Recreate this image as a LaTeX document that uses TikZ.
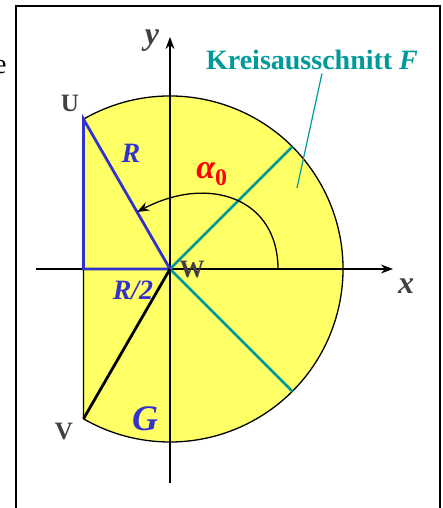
\documentclass[tikz,border=0pt]{standalone}
\usepackage{fontspec}
\setmainfont{Liberation Serif}
\usetikzlibrary{arrows.meta, positioning}

\definecolor{fillyellow}{RGB}{255,255,102}
\definecolor{lineblue}{RGB}{51,51,204}
\definecolor{lineteal}{RGB}{0,153,153}
\definecolor{textgray}{RGB}{64,64,64}

\begin{document}
\begin{tikzpicture}[x=1pt, y=1pt,
    axis/.style={line width=1.4pt, -{Stealth[length=12pt, width=9pt]}},
    blueline/.style={draw=lineblue, line width=2.8pt},
    tealline/.style={draw=lineteal, line width=2.8pt},
    pointlabel/.style={text=textgray, font=\fontsize{25}{25}\selectfont\bfseries},
    varlabel/.style={text=lineblue, font=\fontsize{28}{28}\selectfont\bfseries\itshape}
]
    \useasboundingbox (-170,-239) rectangle (272,269);
    \draw[line width=1.4pt] (-154,-260) -- (-154,263) -- (270,263) -- (270,-260);
    \node[anchor=east, font=\fontsize{28}{28}\selectfont] at (-160,202) {e};

    % points
    \coordinate (W) at (0,0);
    \coordinate (U) at (120:173);
    \coordinate (V) at (240:173);
    \coordinate (M) at (-86.5,0);
    \coordinate (T1) at (45:173);
    \coordinate (T2) at (-45:173);

    % region
    \fill[fillyellow] (U) arc[start angle=120, end angle=-120, radius=173] -- cycle;
    \draw[line width=1.3pt] (U) arc[start angle=120, end angle=-120, radius=173] -- (M);

    % axes
    \draw[axis] (-134,0) -- (223,0);
    \draw[axis] (0,-214) -- (0,232);

    % sector and triangle
    \draw[tealline] (T1) -- (W) -- (T2);
    \draw[blueline] (W) -- (U) -- (M) -- (W);
    \draw[line width=2.8pt] (W) -- (V);

    % angle
    \coordinate (A0) at (108,0);
    \coordinate (A1) at (-33,57);
    \draw[line width=1.3pt, -{Stealth[length=12pt, width=9pt]}] (A0) .. controls (108,70) and (40,95) .. (A1);

    % labels
    \node[pointlabel] (lblU) at (-100,166) {U};
    \node[pointlabel] (lblV) at (-106,-163) {V};
    \node[pointlabel] (lblW) at (22,-1) {W};
    \node[varlabel] (lblR) at (-39,116) {R};
    \node[varlabel] (lblR2) at (-37,-21) {R/2};
    \node[varlabel, font=\fontsize{36}{36}\selectfont\bfseries\itshape] (lblG) at (-25,-150) {G};
    \node[text=red, font=\fontsize{34}{34}\selectfont\bfseries\itshape] (lblA) at (42,95) {α\textsubscript{\upshape 0}};
    \node[text=textgray, font=\fontsize{32}{32}\selectfont\bfseries\itshape] (lblx) at (236,-17) {x};
    \node[text=textgray, font=\fontsize{32}{32}\selectfont\bfseries\itshape] (lbly) at (-18,228) {y};
    \node[text=lineteal, font=\fontsize{28}{28}\selectfont\bfseries] (lblF) at (142,209) {Kreisausschnitt \textit{F}};

    \coordinate (Fpt) at (127,81);
    \draw[draw=lineteal, line width=1.2pt] ([xshift=10pt]lblF.south) -- (Fpt);
\end{tikzpicture}
\end{document}
